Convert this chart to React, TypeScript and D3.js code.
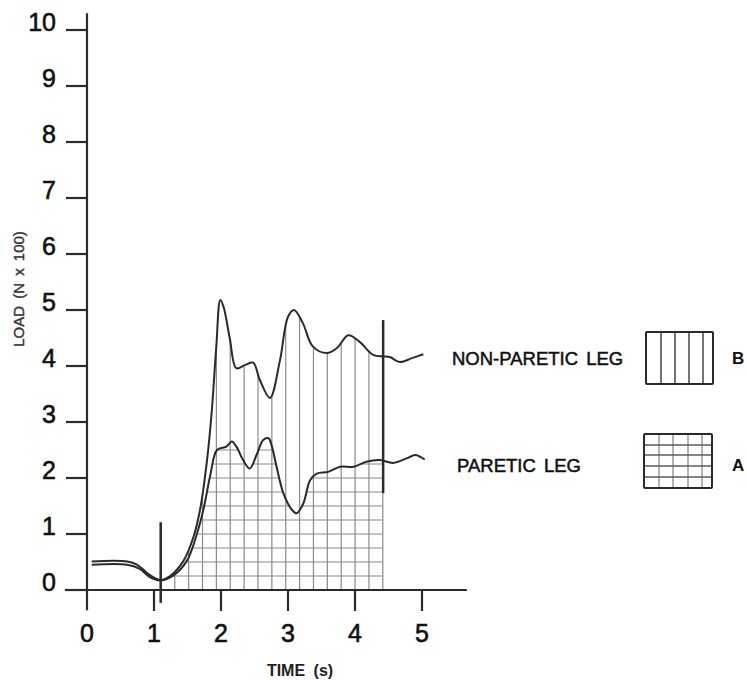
import React from "react";
import * as d3 from "d3";

// load traces (N x 100), time in seconds
const nonPareticTime = [0.07, 0.6, 0.75, 0.9, 1.0, 1.1, 1.24, 1.44, 1.59, 1.69, 1.79, 1.86, 1.93, 1.99, 2.04, 2.13, 2.23, 2.36, 2.48, 2.58, 2.73, 2.88, 3.0, 3.09, 3.22, 3.37, 3.58, 3.73, 3.9, 4.07, 4.27, 4.42, 4.52, 4.67, 4.85, 5.02];
const nonPareticLoad = [0.51, 0.51, 0.45, 0.3, 0.22, 0.18, 0.25, 0.52, 0.95, 1.45, 2.3, 3.16, 4.35, 5.18, 5.05, 4.5, 3.96, 4.02, 4.06, 3.75, 3.43, 4.1, 4.88, 5.0, 4.77, 4.35, 4.23, 4.32, 4.55, 4.43, 4.2, 4.17, 4.16, 4.07, 4.14, 4.21];

const pareticTime = [0.07, 0.6, 0.78, 0.95, 1.1, 1.29, 1.49, 1.64, 1.74, 1.84, 1.94, 2.08, 2.16, 2.23, 2.33, 2.43, 2.53, 2.63, 2.71, 2.76, 2.83, 2.93, 3.06, 3.13, 3.23, 3.33, 3.43, 3.6, 3.78, 3.98, 4.17, 4.37, 4.57, 4.77, 4.9, 5.04];
const pareticLoad = [0.45, 0.45, 0.38, 0.22, 0.17, 0.26, 0.52, 1.0, 1.45, 2.05, 2.5, 2.56, 2.65, 2.56, 2.32, 2.17, 2.41, 2.68, 2.71, 2.56, 2.2, 1.73, 1.43, 1.37, 1.55, 1.96, 2.08, 2.11, 2.2, 2.2, 2.29, 2.32, 2.27, 2.35, 2.41, 2.33];

// event markers: time, and the load span each bar covers
const markerTime = [1.1, 4.42];
const markerFrom = [-0.23, 1.73];
const markerTo = [1.21, 4.82];

const xTicks = [0, 1, 2, 3, 4, 5];
const yTicks = [0, 1, 2, 3, 4, 5, 6, 7, 8, 9, 10];

// shaded window
const hatchStart = 1.1;
const hatchEnd = 4.42;

const W = 747;
const H = 680;
const FONT = "'Liberation Sans', Arial, Helvetica, sans-serif";
const INK = "#2a2a2a";
const HATCH = "#8a8a8a";

export default function App() {
  const x = d3.scaleLinear().domain([0, 5]).range([87, 422]);
  const y = d3.scaleLinear().domain([0, 10]).range([590, 30]);

  const nonParetic = nonPareticTime.map((t, i) => [t, nonPareticLoad[i]] as [number, number]);
  const paretic = pareticTime.map((t, i) => [t, pareticLoad[i]] as [number, number]);

  const curve = d3.curveCatmullRom.alpha(0.5);
  const line = d3.line<[number, number]>().x(d => x(d[0])).y(d => y(d[1])).curve(curve);
  const area = d3.area<[number, number]>().x(d => x(d[0])).y0(y(0)).y1(d => y(d[1])).curve(curve);

  // vertical hatch every ~0.207 s, horizontal every 0.25 load units
  const vHatch = d3.range(16).map(i => 1.31 + i * 0.207);
  const hHatch = d3.range(1, 11).map(i => i * 0.25);

  return (
    <div style={{ position: "absolute", left: 0, top: 0 }}>
      <svg width={W} height={H} style={{ display: "block", background: "#fff" }}>
        <defs>
          <clipPath id="underNonParetic">
            <path d={area(nonParetic) || ""} />
          </clipPath>
          <clipPath id="underParetic">
            <path d={area(paretic) || ""} />
          </clipPath>
        </defs>

        {/* hatching */}
        <g clipPath="url(#underNonParetic)" stroke={HATCH} strokeWidth={1.2}>
          {vHatch.map((t, i) => (
            <line key={i} x1={x(t)} x2={x(t)} y1={y(0)} y2={y(6)} />
          ))}
        </g>
        <g clipPath="url(#underParetic)" stroke={HATCH} strokeWidth={1.2}>
          {hHatch.map((v, i) => (
            <line key={i} x1={x(hatchStart)} x2={x(hatchEnd)} y1={y(v)} y2={y(v)} />
          ))}
        </g>

        {/* axes */}
        <g stroke={INK} strokeWidth={2.2} fill="none">
          <line x1={x(0)} x2={x(0)} y1={y(10.3)} y2={y(-0.36)} />
          <line x1={x(-0.33)} x2={x(5.67)} y1={y(0)} y2={y(0)} />
          {yTicks.map(v => (
            <line key={v} x1={x(0) - 21} x2={x(0)} y1={y(v)} y2={y(v)} />
          ))}
          {xTicks.filter(t => t > 0).map(t => (
            <line key={t} x1={x(t)} x2={x(t)} y1={y(0)} y2={y(0) + 21} />
          ))}
        </g>
        <g fontFamily={FONT} fontSize={25} fill="#111" stroke="#111" strokeWidth={0.6}>
          {yTicks.map(v => (
            <text key={v} x={56} y={y(v) + 1} textAnchor="end">{v}</text>
          ))}
          {xTicks.map(t => (
            <text key={t} x={x(t)} y={642} textAnchor="middle">{t}</text>
          ))}
        </g>
        <text x={300} y={676} textAnchor="middle" fontFamily={FONT} fontSize={16} fontWeight="bold" fill="#222" style={{ wordSpacing: "4px" }}>
          TIME (s)
        </text>
        <text transform="translate(24,289) rotate(-90)" textAnchor="middle" fontFamily={FONT} fontSize={15} fill="#333" stroke="#333" strokeWidth={0.4} style={{ wordSpacing: "3px" }}>
          LOAD (N x 100)
        </text>

        {/* traces */}
        <path d={line(nonParetic) || ""} fill="none" stroke={INK} strokeWidth={2} />
        <path d={line(paretic) || ""} fill="none" stroke={INK} strokeWidth={2} />

        {/* event markers */}
        {markerTime.map((t, i) => (
          <line key={i} x1={x(t)} x2={x(t)} y1={y(markerFrom[i])} y2={y(markerTo[i])} stroke={INK} strokeWidth={2.5} />
        ))}

        {/* legend */}
        <g fontFamily={FONT} fill="#111" stroke="#111" strokeWidth={0.5}>
          <text x={452} y={365} fontSize={18.5} style={{ wordSpacing: "3px" }}>NON-PARETIC LEG</text>
          <text x={457} y={472} fontSize={18.5} style={{ wordSpacing: "3px" }}>PARETIC LEG</text>
          <text x={732} y={364} fontSize={17} fontWeight="bold" strokeWidth={0}>B</text>
          <text x={732} y={471} fontSize={17} fontWeight="bold" strokeWidth={0}>A</text>
        </g>
        <g fill="none">
          {[661, 675, 689, 703].map(px => (
            <line key={px} x1={px} x2={px} y1={332} y2={384} stroke={INK} strokeWidth={1.3} />
          ))}
          <rect x={646} y={332} width={67} height={52} stroke={INK} strokeWidth={2} rx={1} />
          {[659, 673, 688, 702].map(px => (
            <line key={px} x1={px} x2={px} y1={434} y2={488} stroke={HATCH} strokeWidth={1.3} />
          ))}
          {[445, 455, 466, 477].map(py => (
            <line key={py} x1={644} x2={712} y1={py} y2={py} stroke="#6a5560" strokeWidth={1.3} />
          ))}
          <rect x={644} y={434} width={68} height={54} stroke={INK} strokeWidth={2} rx={1} />
        </g>
      </svg>
    </div>
  );
}
